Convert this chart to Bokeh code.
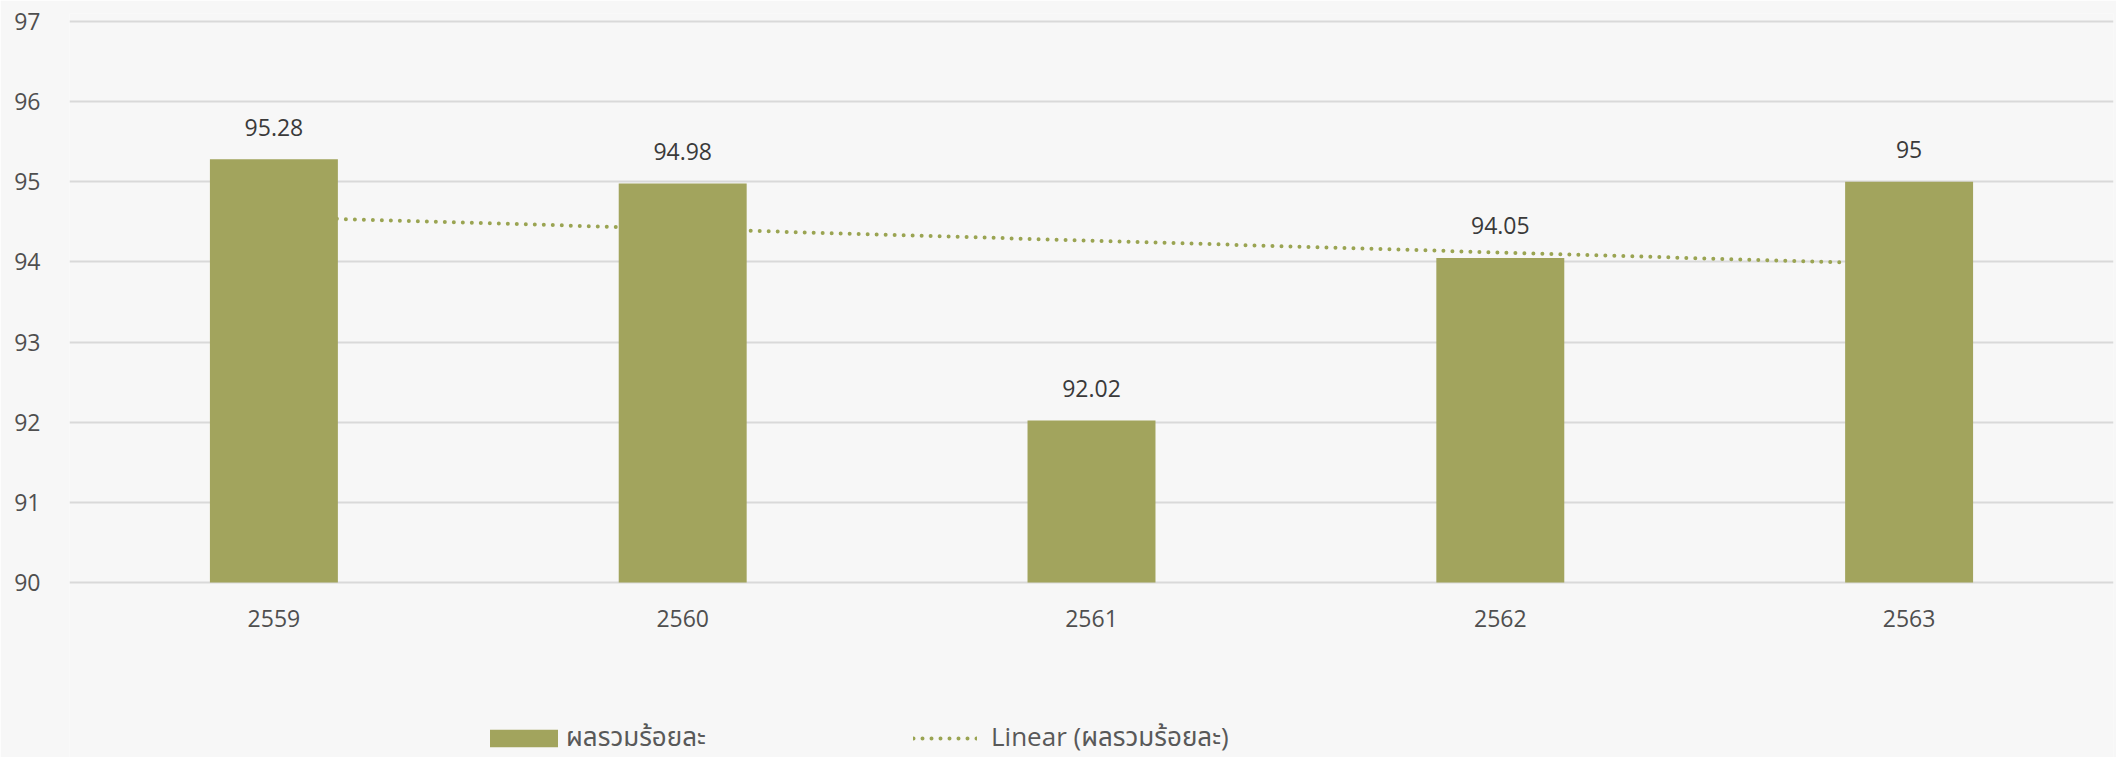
from bokeh.plotting import figure
from bokeh.models import ColumnDataSource, Range1d, FactorRange, FixedTicker, Legend, LegendItem
from bokeh.core.properties import value
from bokeh.embed import file_html
from bokeh.resources import INLINE

years = ["2559", "2560", "2561", "2562", "2563"]
scores = [95.28, 94.98, 92.02, 94.05, 95.0]
trend_years = ["2559", "2563"]
trend_values = [94.56, 93.97]
y_ticks = [90, 91, 92, 93, 94, 95, 96, 97]
series_name = "ผลรวมร้อยละ"
trend_name = "Linear (ผลรวมร้อยละ)"

FONT = "'Open Sans', 'Noto Sans Thai', 'Noto Sans', sans-serif"
BAR = "#A2A45D"
DOT = "#9AA452"
BG = "#F7F7F7"

# frame reaches the bottom of the canvas so that the legend can sit inside it
p = figure(width=2116, height=757, x_range=FactorRange(*years), y_range=Range1d(87.816, 97.1),
           output_backend="svg", toolbar_location=None,
           min_border_left=69, min_border_right=3, min_border_top=13, min_border_bottom=0)
p.background_fill_color = BG
p.border_fill_color = BG
p.outline_line_color = None

src = ColumnDataSource(dict(x=years, y=scores, lab=[f"{v:g}" for v in scores]))
tsrc = ColumnDataSource(dict(x=trend_years, y=trend_values))

line_r = p.line("x", "y", source=tsrc, line_color=DOT, line_width=4, line_dash="0 9", line_cap="round")
bar_r = p.vbar(x="x", top="y", bottom=90, width=0.313, source=src, fill_color=BAR, line_color=None)
p.text(x="x", y="y", text="lab", source=src, text_align="center", text_baseline="middle",
       y_offset=-32, text_font=value(FONT), text_font_size="23px", text_color="#3A3A3A")

p.xgrid.grid_line_color = None
p.ygrid.grid_line_color = "#D9D9D9"
p.ygrid.grid_line_width = 2
p.yaxis.ticker = FixedTicker(ticks=y_ticks)
p.xaxis.fixed_location = 90

for ax in (p.xaxis, p.yaxis):
    ax.axis_line_color = None
    ax.major_tick_line_color = None
    ax.minor_tick_line_color = None
    ax.major_tick_out = 0
    ax.major_tick_in = 0
    ax.major_label_text_font = FONT
    ax.major_label_text_color = "#4F4F4F"
p.yaxis.major_label_text_font_size = "23px"
p.yaxis.major_label_standoff = 29
p.xaxis.major_label_text_font_size = "23px"
p.xaxis.major_label_standoff = 28

def mk_legend(item, loc, gw, gh, standoff):
    return Legend(items=[item], location=loc, orientation="horizontal",
                  glyph_width=gw, glyph_height=gh, label_standoff=standoff,
                  padding=0, margin=0, spacing=0, border_line_color=None,
                  background_fill_alpha=0, label_text_font=FONT,
                  label_text_font_size="26px", label_text_color="#595959",
                  label_height=22)

lg1 = mk_legend(LegendItem(label=series_name, renderers=[bar_r]), (412, -1), 85, 22, 0)
lg2 = mk_legend(LegendItem(label=trend_name, renderers=[line_r]), (844, -1), 64, 22, 14)
p.add_layout(lg1)
p.add_layout(lg2)

open("out.html", "w").write(file_html(p, INLINE))
